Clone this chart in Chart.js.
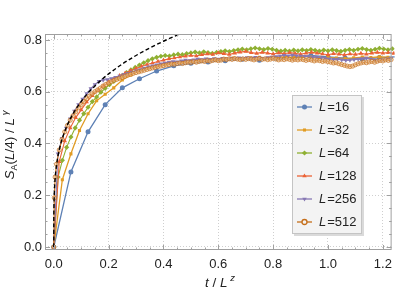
<!DOCTYPE html>
<html>
<head>
<meta charset="utf-8">
<script src="https://cdn.jsdelivr.net/npm/chart.js@4"></script>
<style>
    body { margin: 0; background: #fff; }
    #wrap { width: 399px; height: 299px; }
</style>
</head>
<body>
<div id="wrap"><canvas id="chart" width="399" height="299"></canvas></div>
<script>
// Series (y = S_A(L/4)/L^gamma against t/L^z)
const seriesLabels = ['16', '32', '64', '128', '256', '512'];
const seriesColors = ['#5E81B5', '#E19C24', '#8FB032', '#EB6235', '#8778B3', '#C56E1A'];

const xTicks = [0, 0.2, 0.4, 0.6, 0.8, 1.0, 1.2];
const yTicks = [0, 0.2, 0.4, 0.6, 0.8];

// L=16, t = i/16
const v16 = [0, 0.29, 0.445, 0.55, 0.615, 0.65, 0.68, 0.70, 0.71, 0.715, 0.72, 0.725, 0.722,
    0.728, 0.732, 0.74, 0.735, 0.73, 0.726, 0.732, 0.735];

// L=32, t = i/32
const v32 = [0, 0.26, 0.36, 0.45, 0.515, 0.565, 0.59, 0.615, 0.645, 0.665, 0.68, 0.692, 0.70,
    0.706, 0.712, 0.716, 0.72, 0.722, 0.725, 0.723, 0.727, 0.73, 0.728, 0.731, 0.733, 0.73,
    0.732, 0.735, 0.733, 0.736, 0.734, 0.731, 0.733, 0.73, 0.728, 0.731, 0.734, 0.732, 0.735, 0.733];

// L=64, t = i/64
const v64 = [0, 0.27, 0.335, 0.385, 0.425, 0.46, 0.49, 0.515, 0.54, 0.562,
    0.58, 0.598, 0.613, 0.627, 0.64, 0.652, 0.663, 0.674, 0.684, 0.694,
    0.703, 0.712, 0.72, 0.727, 0.733, 0.737, 0.74, 0.738, 0.742, 0.745,
    0.743, 0.747, 0.75, 0.753, 0.75, 0.754, 0.751, 0.748, 0.752, 0.755,
    0.758, 0.755, 0.759, 0.762, 0.765, 0.762, 0.766, 0.769, 0.766, 0.763,
    0.767, 0.764, 0.76, 0.757, 0.76, 0.757, 0.761, 0.758, 0.762, 0.759,
    0.763, 0.76, 0.757, 0.761, 0.758, 0.762, 0.759, 0.756, 0.76, 0.763,
    0.76, 0.764, 0.767, 0.763, 0.76, 0.764, 0.768, 0.765, 0.762, 0.766];

// L=128, t = i*0.02
const v128 = [0, 0.33, 0.41, 0.46, 0.50, 0.53, 0.56, 0.585, 0.605, 0.622,
    0.637, 0.65, 0.662, 0.672, 0.682, 0.69, 0.698, 0.705, 0.711, 0.717,
    0.722, 0.727, 0.73, 0.734, 0.737, 0.74, 0.738, 0.743, 0.746, 0.744,
    0.75, 0.747, 0.744, 0.749, 0.753, 0.756, 0.751, 0.748, 0.752, 0.749,
    0.746, 0.75, 0.747, 0.751, 0.748, 0.745, 0.749, 0.752, 0.749, 0.746,
    0.743, 0.747, 0.745, 0.742, 0.746, 0.744, 0.748, 0.745, 0.749, 0.752,
    0.749, 0.751, 0.748];

// L=256, t = i*0.015
const v256 = [0, 0.36, 0.42, 0.46, 0.495, 0.525, 0.55, 0.572, 0.593, 0.612,
    0.628, 0.64, 0.645, 0.647, 0.651, 0.656, 0.661, 0.666, 0.671, 0.676,
    0.681, 0.686, 0.691, 0.696, 0.70, 0.704, 0.708, 0.711, 0.714, 0.717,
    0.716, 0.719, 0.722, 0.72, 0.723, 0.726, 0.724, 0.727, 0.725, 0.728,
    0.726, 0.729, 0.727, 0.73, 0.728, 0.731, 0.729, 0.732, 0.73, 0.733,
    0.731, 0.729, 0.732, 0.734, 0.736, 0.738, 0.741, 0.739, 0.742, 0.739,
    0.738, 0.737, 0.735, 0.734, 0.733, 0.731, 0.729, 0.727, 0.725, 0.726,
    0.723, 0.721, 0.722, 0.724, 0.726, 0.728, 0.73, 0.727, 0.723, 0.72,
    0.723, 0.727, 0.73];

// L=512, first three early times then t = 0.01 steps
const t512Early = [0, 0.002, 0.005];
const v512 = [0, 0.19, 0.27,
    0.32, 0.375, 0.415, 0.445, 0.47, 0.49, 0.507, 0.522, 0.538, 0.55,
    0.562, 0.573, 0.583, 0.592, 0.60, 0.607, 0.614, 0.622, 0.628, 0.634,
    0.639, 0.644, 0.648, 0.652, 0.656, 0.66, 0.664, 0.667, 0.671, 0.674,
    0.677, 0.68, 0.683, 0.686, 0.689, 0.692, 0.694, 0.697, 0.699, 0.701,
    0.703, 0.705, 0.707, 0.706, 0.709, 0.711, 0.709, 0.712, 0.714, 0.713,
    0.716, 0.714, 0.717, 0.719, 0.717, 0.72, 0.718, 0.721, 0.723, 0.72,
    0.722, 0.726, 0.724, 0.727, 0.725, 0.728, 0.726, 0.724, 0.727, 0.725,
    0.728, 0.726, 0.723, 0.726, 0.728, 0.725, 0.727, 0.724, 0.726, 0.729,
    0.726, 0.723, 0.726, 0.724, 0.727, 0.725, 0.722, 0.725, 0.723, 0.726,
    0.724, 0.721, 0.724, 0.722, 0.719, 0.722, 0.72, 0.717, 0.719, 0.716,
    0.714, 0.711, 0.712, 0.708, 0.705, 0.702, 0.699, 0.697, 0.699, 0.704,
    0.708, 0.711, 0.714, 0.712, 0.715, 0.717, 0.714, 0.718, 0.721, 0.719,
    0.723, 0.721, 0.724];

// dashed reference curve, sampled by eye
const dashT = [0, 0.0001, 0.0005, 0.001, 0.002, 0.003, 0.005, 0.007, 0.01, 0.014, 0.02, 0.027, 0.035,
    0.05, 0.065, 0.075, 0.1, 0.125, 0.15, 0.175, 0.2, 0.25, 0.3, 0.35, 0.4, 0.45, 0.47];
const dashV = [0, 0.1, 0.15, 0.178, 0.21, 0.234, 0.266, 0.289, 0.316, 0.344, 0.376, 0.405, 0.432,
    0.473, 0.505, 0.523, 0.562, 0.595, 0.622, 0.647, 0.669, 0.707, 0.740, 0.769, 0.795, 0.819, 0.828];

const t512 = t512Early.concat(Array.from({ length: v512.length - 3 }, (_, i) => (i + 1) / 100));

function toPoints(ts, vs) {
    return vs.map((v, i) => ({ x: ts[i], y: v }));
}
function grid(step, n) {
    return Array.from({ length: n }, (_, i) => i * step);
}

const seriesData = [
    toPoints(grid(1 / 16, v16.length), v16),
    toPoints(grid(1 / 32, v32.length), v32),
    toPoints(grid(1 / 64, v64.length), v64),
    toPoints(grid(0.02, v128.length), v128),
    toPoints(grid(0.015, v256.length), v256),
    toPoints(t512, v512)
];

const markers = [
    { pointStyle: 'circle', radius: 2.5, rotation: 0 },
    { pointStyle: 'rect', radius: 2.2, rotation: 0 },
    { pointStyle: 'rectRot', radius: 2.6, rotation: 0 },
    { pointStyle: 'triangle', radius: 2.6, rotation: 0 },
    { pointStyle: 'triangle', radius: 2.6, rotation: 180 },
    { pointStyle: 'circle', radius: 2.1, rotation: 0 }
];

const FONT = '"Liberation Sans", Arial, sans-serif';
const openFill = 'rgba(238,196,150,0.55)';
const openEdge = 'rgba(197,110,26,0.85)';

const datasets = seriesData.map((pts, i) => ({
    label: 'L=' + seriesLabels[i],
    data: pts,
    borderColor: seriesColors[i],
    backgroundColor: i === 5 ? openFill : seriesColors[i],
    borderWidth: i < 2 ? 1.3 : 1.1,
    pointStyle: markers[i].pointStyle,
    pointRadius: markers[i].radius,
    pointRotation: markers[i].rotation,
    pointBorderWidth: i === 5 ? 0.8 : 0,
    pointBorderColor: i === 5 ? openEdge : seriesColors[i],
    pointBackgroundColor: i === 5 ? openFill : seriesColors[i],
    order: 6 - i,
    clip: 3
}));

datasets.push({
    label: 'fit',
    data: toPoints(dashT, dashV),
    borderColor: '#000',
    borderWidth: 1.4,
    borderDash: [4, 2.5],
    pointRadius: 0,
    cubicInterpolationMode: 'monotone',
    order: -1,
    clip: 0
});

// frame with inward major/minor ticks, legend box, axis titles
const decorPlugin = {
    id: 'decor',
    afterDatasetsDraw(chart) {
        const { ctx, chartArea: a, scales: { x, y } } = chart;
        ctx.save();
        ctx.strokeStyle = '#a0a0a0';
        ctx.lineWidth = 1;
        ctx.strokeRect(a.left + 0.5, a.top + 0.5, a.right - a.left - 1, a.bottom - a.top - 1);

        ctx.beginPath();
        for (let k = 0; k <= 24; k++) {
            const px = Math.round(x.getPixelForValue(k * 0.05)) + 0.5;
            const len = k % 4 === 0 ? 5 : 2.5;
            ctx.moveTo(px, a.bottom); ctx.lineTo(px, a.bottom - len);
            ctx.moveTo(px, a.top); ctx.lineTo(px, a.top + len);
        }
        for (let k = 0; k <= 16; k++) {
            const py = Math.round(y.getPixelForValue(k * 0.05)) + 0.5;
            const len = k % 4 === 0 ? 5 : 2.5;
            ctx.moveTo(a.left, py); ctx.lineTo(a.left + len, py);
            ctx.moveTo(a.right, py); ctx.lineTo(a.right - len, py);
        }
        ctx.stroke();
        ctx.restore();
    },
    afterDraw(chart) {
        const ctx = chart.ctx;
        drawLegend(ctx);
        drawTitles(ctx);
    }
};

function drawLegend(ctx) {
    const bx = 292, by = 95, bw = 70, bh = 139;
    ctx.save();
    ctx.fillStyle = '#dadada';
    ctx.fillRect(bx + 2, by + 2, bw, bh);
    ctx.fillStyle = '#f3f3f3';
    ctx.fillRect(bx, by, bw, bh);
    ctx.strokeStyle = '#c4c4c4';
    ctx.lineWidth = 1;
    ctx.strokeRect(bx + 0.5, by + 0.5, bw - 1, bh - 1);

    seriesLabels.forEach((lab, i) => {
        const yy = 107 + i * 23;
        ctx.strokeStyle = seriesColors[i];
        ctx.lineWidth = 1.3;
        ctx.beginPath();
        ctx.moveTo(297, yy);
        ctx.lineTo(312, yy);
        ctx.stroke();
        ctx.fillStyle = i === 5 ? '#f3f3f3' : seriesColors[i];
        ctx.strokeStyle = seriesColors[i];
        Chart.helpers.drawPoint(ctx, {
            pointStyle: markers[i].pointStyle,
            radius: i === 5 ? 2.5 : markers[i].radius,
            rotation: markers[i].rotation,
            borderWidth: i === 5 ? 0.8 : 0
        }, 304.5, yy);

        ctx.fillStyle = '#222';
        ctx.textBaseline = 'middle';
        ctx.font = 'italic 13px ' + FONT;
        ctx.fillText('L', 319, yy + 0.5);
        const w = ctx.measureText('L').width;
        ctx.font = '13px ' + FONT;
        ctx.fillText('=' + lab, 319 + w + 1, yy + 0.5);
    });
    ctx.restore();
}

function drawPieces(ctx, pieces, cx, cy) {
    let total = 0;
    pieces.forEach(p => { ctx.font = p.font; p.w = ctx.measureText(p.text).width; total += p.w; });
    let px = cx - total / 2;
    pieces.forEach(p => {
        ctx.font = p.font;
        ctx.fillText(p.text, px, cy + (p.dy || 0));
        px += p.w;
    });
}

function drawTitles(ctx) {
    ctx.save();
    ctx.fillStyle = '#222';
    ctx.textBaseline = 'alphabetic';
    const it = 'italic 13.5px ' + FONT;
    const rg = '13.5px ' + FONT;
    drawPieces(ctx, [
        { text: 't', font: it },
        { text: ' / ', font: rg },
        { text: 'L', font: it },
        { text: ' z', font: 'italic 9.5px ' + FONT, dy: -6 }
    ], 220, 287);

    ctx.translate(14, 145);
    ctx.rotate(-Math.PI / 2);
    drawPieces(ctx, [
        { text: 'S', font: it },
        { text: 'A', font: '9px ' + FONT, dy: 2.5 },
        { text: '(', font: rg },
        { text: 'L', font: it },
        { text: '/4) / ', font: rg },
        { text: 'L', font: it },
        { text: ' γ', font: 'italic 9.5px ' + FONT, dy: -6 }
    ], 0, 0);
    ctx.restore();
}

new Chart(document.getElementById('chart'), {
    type: 'line',
    data: { datasets },
    options: {
        responsive: false,
        animation: false,
        layout: { padding: { top: 34, right: 2, left: 0, bottom: 0 } },
        plugins: { legend: { display: false }, tooltip: { enabled: false } },
        scales: {
            x: {
                type: 'linear',
                min: -0.032,
                max: 1.232,
                afterBuildTicks: s => { s.ticks = xTicks.map(v => ({ value: v })); },
                afterFit: s => { s.height = 49; },
                grid: { color: '#cfcfcf', lineWidth: 1, drawTicks: false },
                border: { display: false, dash: [1, 2] },
                ticks: {
                    padding: 7,
                    color: '#222',
                    font: { family: FONT, size: 13 },
                    maxRotation: 0,
                    callback: v => v.toFixed(1)
                }
            },
            y: {
                type: 'linear',
                min: -0.0116,
                max: 0.823,
                afterBuildTicks: s => { s.ticks = yTicks.map(v => ({ value: v })); },
                afterFit: s => { s.width = 45; },
                grid: { color: '#cfcfcf', lineWidth: 1, drawTicks: false },
                border: { display: false, dash: [1, 2] },
                ticks: {
                    padding: 3,
                    color: '#222',
                    font: { family: FONT, size: 13 },
                    callback: v => v.toFixed(1)
                }
            }
        }
    },
    plugins: [decorPlugin]
});
</script>
</body>
</html>
